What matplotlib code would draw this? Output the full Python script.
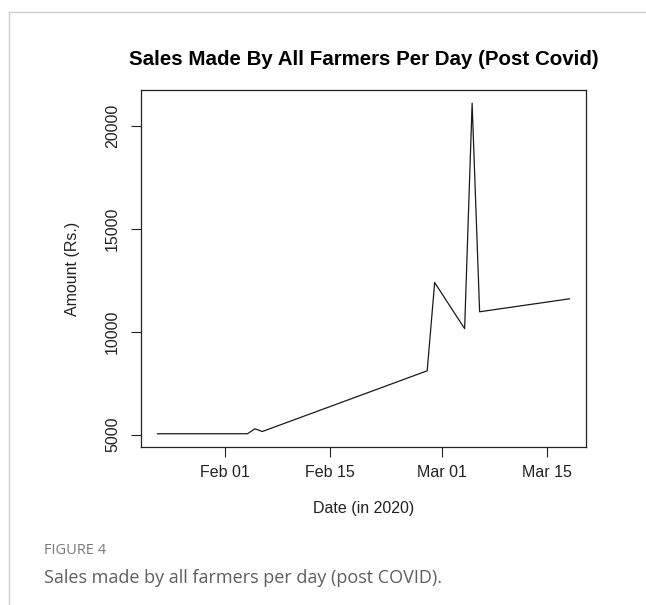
import numpy as np
import matplotlib
matplotlib.use("Agg")
import matplotlib.pyplot as plt
import matplotlib.dates as mdates
from matplotlib.lines import Line2D

# daily sales after covid
dates = np.array(["2020-01-23", "2020-02-04", "2020-02-05", "2020-02-06",
                  "2020-02-28", "2020-02-29", "2020-03-04", "2020-03-05",
                  "2020-03-06", "2020-03-18"], dtype="datetime64[D]")
amounts = [5040, 5040, 5280, 5150, 8100, 12390, 10150, 21110, 10970, 11600]

x_ticks = np.array(["2020-02-01", "2020-02-15", "2020-03-01", "2020-03-15"],
                   dtype="datetime64[D]")
y_ticks = [5000, 10000, 15000, 20000]

plt.rcParams['font.family'] = ['Liberation Sans', 'DejaVu Sans']

fig = plt.figure(figsize=(6.46, 6.05), dpi=100)
ax = fig.add_axes([0.2183, 0.2612, 0.6888, 0.5901])

ax.plot(dates, amounts, color='#1a1a1a', linewidth=0.9)
ax.margins(x=0.04, y=0.04)

ax.set_xticks(x_ticks)
ax.xaxis.set_major_formatter(mdates.DateFormatter('%b %d'))
ax.set_yticks(y_ticks)
ax.set_yticklabels([str(v) for v in y_ticks], rotation=90, va='center')

ax.tick_params(direction='out', length=7, width=0.8, labelsize=11.5,
               colors='#222222', pad=6)
ax.tick_params(axis='y', pad=8)
for s in ax.spines.values():
    s.set_linewidth(0.9)
    s.set_color('#222222')

ax.set_title('Sales Made By All Farmers Per Day (Post Covid)', fontsize=14.8,
             fontweight='bold', pad=18)
ax.set_xlabel('Date (in 2020)', fontsize=11.5, labelpad=15, color='#222222')
ax.set_ylabel('Amount (Rs.)', fontsize=11.5, labelpad=18, color='#222222')

# caption under the chart
fig.text(44 / 646, 1 - 551 / 605, 'FIGURE 4', fontsize=10.5, color='#7a7a7a',
         family=['Open Sans', 'DejaVu Sans'], va='center')
fig.text(44 / 646, 1 - 578 / 605,
         'Sales made by all farmers per day (post COVID).', fontsize=13,
         color='#5e5e5e', family=['Open Sans', 'DejaVu Sans'], va='center')

# card border (top and left)
fig.add_artist(Line2D([9 / 646, 1], [1 - 12 / 605, 1 - 12 / 605],
                      transform=fig.transFigure, color='#cccccc', lw=1))
fig.add_artist(Line2D([9 / 646, 9 / 646], [0, 1 - 12 / 605],
                      transform=fig.transFigure, color='#cccccc', lw=1))

fig.savefig('out.png', dpi=100)
